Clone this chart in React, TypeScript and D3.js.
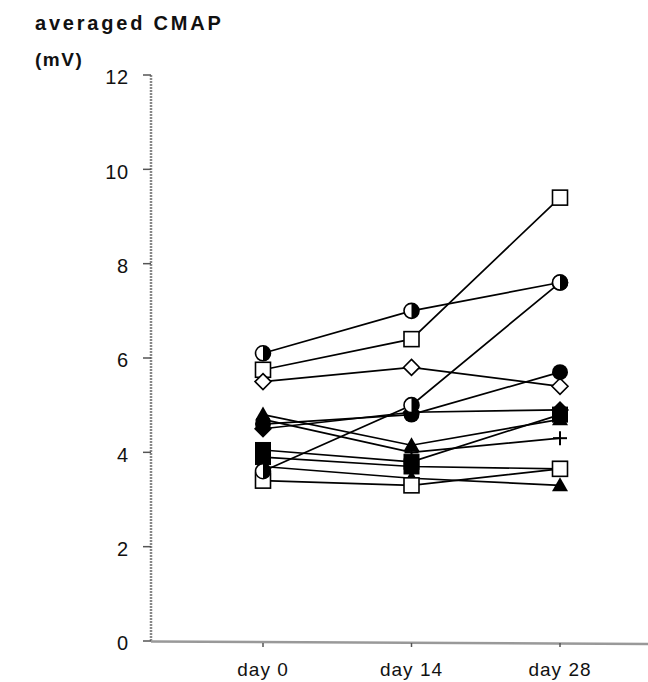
import React from "react";
import * as d3 from "d3";

const days = [0, 14, 28];
const dayLabels = ["day 0", "day 14", "day 28"];
const yTicks = [0, 2, 4, 6, 8, 10, 12];

const seriesNames = ["s1", "s2", "s3", "s4", "s5", "s6", "s7", "s8", "s9", "s10", "s11", "s12"];
const seriesMarkers = ["halfCircle", "openSquare", "openDiamond", "filledCircle", "filledDiamond", "filledTriangle", "plus", "filledSquare", "filledSquare", "filledTriangle", "openSquare", "halfCircle"];
const seriesValues: number[][] = [
  [6.1, 7.0, 7.6],
  [5.75, 6.4, 9.4],
  [5.5, 5.8, 5.4],
  [4.6, 4.8, 5.7],
  [4.5, 4.85, 4.9],
  [4.8, 4.15, 4.7],
  [4.7, 4.0, 4.3],
  [4.05, 3.8, 4.8],
  [3.9, 3.7, 3.65],
  [3.7, 3.45, 3.3],
  [3.4, 3.3, 3.65],
  [3.6, 5.0, 7.6],
];

const W = 648, H = 682;
const x = d3.scaleLinear().domain([0, 28]).range([263, 560]);
const y = d3.scaleLinear().domain([0, 12]).range([641, 75]);
const line = d3.line<[number, number]>().x(d => x(d[0])).y(d => y(d[1]));

function Marker({ type, cx, cy }: { type: string; cx: number; cy: number }) {
  const s = 7.5;
  switch (type) {
    case "openSquare":
      return <rect x={cx - s} y={cy - s} width={2 * s} height={2 * s} fill="#fff" stroke="#000" strokeWidth={1.6} />;
    case "filledSquare":
      return <rect x={cx - s} y={cy - s} width={2 * s} height={2 * s} fill="#000" stroke="#000" strokeWidth={1} />;
    case "halfCircle":
      return (
        <g>
          <circle cx={cx} cy={cy} r={7.5} fill="#fff" stroke="#000" strokeWidth={1.6} />
          <path d={`M${cx},${cy - 7.5} A7.5,7.5 0 0 1 ${cx},${cy + 7.5} Z`} fill="#000" />
        </g>
      );
    case "filledCircle":
      return <circle cx={cx} cy={cy} r={8} fill="#000" />;
    case "openDiamond":
      return <path d={`M${cx},${cy - 8} L${cx + 8},${cy} L${cx},${cy + 8} L${cx - 8},${cy} Z`} fill="#fff" stroke="#000" strokeWidth={1.6} />;
    case "filledDiamond":
      return <path d={`M${cx},${cy - 9} L${cx + 9},${cy} L${cx},${cy + 9} L${cx - 9},${cy} Z`} fill="#000" />;
    case "filledTriangle":
      return <path d={`M${cx},${cy - 8} L${cx + 8},${cy + 6} L${cx - 8},${cy + 6} Z`} fill="#000" />;
    case "plus":
      return (
        <g stroke="#000" strokeWidth={2}>
          <line x1={cx - 7} x2={cx + 7} y1={cy} y2={cy} />
          <line x1={cx} x2={cx} y1={cy - 7} y2={cy + 7} />
        </g>
      );
    default:
      return null;
  }
}

export default function App() {
  const font = "'Liberation Sans', Arial, sans-serif";
  return (
    <svg width={W} height={H} style={{ position: "absolute", left: 0, top: 0, background: "#fff" }}>
      <text x={35} y={30} fontFamily={font} fontSize={20} fontWeight="bold" letterSpacing={2.8} fill="#111">averaged CMAP</text>
      <text x={35} y={66} fontFamily={font} fontSize={19} fontWeight="bold" letterSpacing={1.5} fill="#111">(mV)</text>

      {/* y axis */}
      <line x1={151} x2={151} y1={y(12)} y2={y(0)} stroke="#888" strokeWidth={2.5} strokeDasharray="2,1" />
      {yTicks.map(t => (
        <g key={t}>
          <line x1={143} x2={151} y1={y(t)} y2={y(t)} stroke="#555" strokeWidth={1.5} />
          <text x={129} y={y(t) + 2} dy="0.36em" textAnchor="end" fontFamily={font} fontSize={20} letterSpacing={0.8} fill="#111">{t}</text>
        </g>
      ))}

      {/* x axis */}
      <line x1={151} x2={W} y1={y(0) + 0.5} y2={y(0) + 3} stroke="#999" strokeWidth={2.5} />
      {days.map((d, i) => (
        <g key={d}>
          <line x1={x(d)} x2={x(d)} y1={y(0) + 2} y2={y(0) + 6} stroke="#555" strokeWidth={1.5} />
          <text x={x(d)} y={676} textAnchor="middle" fontFamily={font} fontSize={19} letterSpacing={1} fill="#111">{dayLabels[i]}</text>
        </g>
      ))}

      {/* lines */}
      {seriesValues.map((vals, i) => (
        <path key={seriesNames[i]} d={line(vals.map((v, j) => [days[j], v]))!} fill="none" stroke="#000" strokeWidth={1.7} />
      ))}
      {/* markers */}
      {seriesValues.map((vals, i) => (
        <g key={seriesNames[i] + "m"}>
          {vals.map((v, j) => (
            <Marker key={j} type={seriesMarkers[i]} cx={x(days[j])} cy={y(v)} />
          ))}
        </g>
      ))}
    </svg>
  );
}
